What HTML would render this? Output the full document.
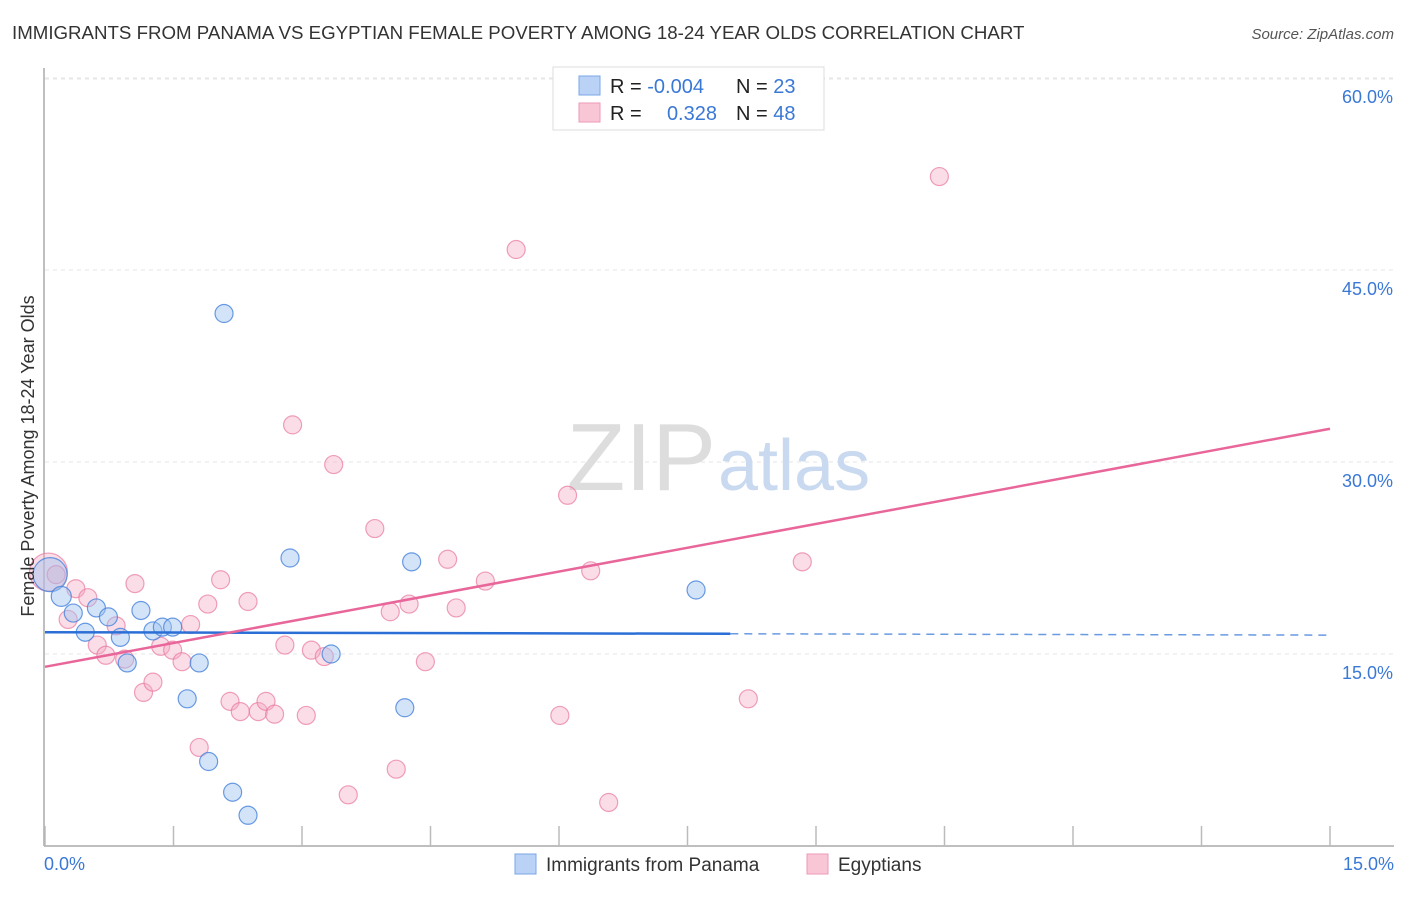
<!DOCTYPE html>
<html><head><meta charset="utf-8"><style>
body{margin:0;background:#fff;font-family:"Liberation Sans",sans-serif;}
svg text{font-family:"Liberation Sans",sans-serif;}
</style></head><body>
<svg id="chart" width="1406" height="892" xmlns="http://www.w3.org/2000/svg">
<text x="12" y="39" font-size="18.7" fill="#333">IMMIGRANTS FROM PANAMA VS EGYPTIAN FEMALE POVERTY AMONG 18-24 YEAR OLDS CORRELATION CHART</text>
<text x="1394" y="39" font-size="15" fill="#555" text-anchor="end" font-style="italic">Source: ZipAtlas.com</text>
<g id="grid"></g>
<text x="716" y="490" font-size="96" fill="#ddd" text-anchor="end" font-family="Liberation Serif">ZIP</text>
<text x="718" y="490" font-size="72" fill="#c8d9f0">atlas</text>
<line x1="44" y1="68" x2="44" y2="846" stroke="#aaa" stroke-width="1.5"/>
<line x1="44" y1="846" x2="1394" y2="846" stroke="#aaa" stroke-width="1.5"/>
<g id="ticks"></g>
<g id="points"></g>
<g id="trends"></g>
<text transform="translate(34,456) rotate(-90)" font-size="18" fill="#333" text-anchor="middle">Female Poverty Among 18-24 Year Olds</text>
<text x="44" y="870" font-size="18" fill="#3a78d6">0.0%</text>
<text x="1394" y="870" font-size="18" fill="#3a78d6" text-anchor="end">15.0%</text>
<g>
<rect x="553" y="67" width="271" height="63" fill="#fff" stroke="#ddd"/>
<rect x="579" y="76" width="21" height="19" fill="#b9d2f5" stroke="#7aa6e6"/>
<rect x="579" y="103" width="21" height="19" fill="#f9c6d6" stroke="#ee9ab5"/>
<text x="610" y="93" font-size="20" fill="#222">R = <tspan fill="#3a78d6">-0.004</tspan></text>
<text x="736" y="93" font-size="20" fill="#222">N = <tspan fill="#3a78d6">23</tspan></text>
<text x="610" y="120" font-size="20" fill="#222">R = </text>
<text x="717" y="120" font-size="20" fill="#3a78d6" text-anchor="end">0.328</text>
<text x="736" y="120" font-size="20" fill="#222">N = <tspan fill="#3a78d6">48</tspan></text>
</g>
<g>
<rect x="515" y="854" width="21" height="20" fill="#b9d2f5" stroke="#7aa6e6"/>
<text x="546" y="871" font-size="19" fill="#333">Immigrants from Panama</text>
<rect x="807" y="854" width="21" height="20" fill="#f9c6d6" stroke="#ee9ab5"/>
<text x="838" y="871" font-size="19" fill="#333">Egyptians</text>
</g>
</svg>
<script>
const yTicks=[15,30,45,60];
const yTickLabels=["15.0%","30.0%","45.0%","60.0%"];
const xTicks=[0,1.5,3,4.5,6,7.5,9,10.5,12,13.5,15];
const panamaX=[0.06,0.19,0.33,0.47,0.6,0.74,0.88,0.96,1.12,1.26,1.37,1.49,1.66,1.8,1.91,2.19,2.09,2.86,3.34,4.2,4.28,7.6,2.37];
const panamaY=[21.2,19.5,18.2,16.7,18.6,17.9,16.3,14.3,18.4,16.8,17.1,17.1,11.5,14.3,6.6,4.2,41.6,22.5,15.0,10.8,22.2,20.0,2.4];
const panamaR=[17,10,9,9,9,9,9,9,9,9,9,9,9,9,9,9,9,9,9,9,9,9,9];
const egyptX=[0.04,0.13,0.27,0.36,0.5,0.61,0.71,0.83,0.93,1.05,1.15,1.26,1.35,1.49,1.6,1.7,1.8,1.9,2.05,2.16,2.28,2.37,2.49,2.58,2.68,2.8,2.89,3.05,3.11,3.26,3.37,3.54,3.85,4.03,4.1,4.25,4.44,4.7,4.8,5.14,5.5,6.01,6.1,6.37,6.58,8.21,8.84,10.44];
const egyptY=[21.4,21.2,17.7,20.1,19.4,15.7,14.9,17.2,14.6,20.5,12.0,12.8,15.6,15.3,14.4,17.3,7.7,18.9,20.8,11.3,10.5,19.1,10.5,11.3,10.3,15.7,32.9,10.2,15.3,14.8,29.8,4.0,24.8,18.3,6.0,18.9,14.4,22.4,18.6,20.7,46.6,10.2,27.4,21.5,3.4,11.5,22.2,52.3];
const egyptR=[19,9,9,9,9,9,9,9,9,9,9,9,9,9,9,9,9,9,9,9,9,9,9,9,9,9,9,9,9,9,9,9,9,9,9,9,9,9,9,9,9,9,9,9,9,9,9,9];
const panamaTrend=[16.7,-0.015];
const egyptTrend=[14.0,1.24];
const panamaSolidEnd=8.0;
const NS="http://www.w3.org/2000/svg";
const sx=v=>45+v/15*1285, sy=v=>846-v*12.8;
function mk(tag,attrs,parent){const e=document.createElementNS(NS,tag);for(const k in attrs)e.setAttribute(k,attrs[k]);document.getElementById(parent).appendChild(e);return e;}
yTicks.forEach((t,i)=>{
 const l=mk('line',{x1:45,x2:1394,y1:sy(t),y2:sy(t),stroke:'#e6e6e6','stroke-dasharray':'4,4'},'grid');
 
 
 const tx=mk('text',{x:1393,y:sy(t)+25,'font-size':18,fill:'#3a78d6','text-anchor':'end'},'grid');
 tx.textContent=yTickLabels[i];
 
 
});
{const l=mk('line',{x1:45,x2:1394,y1:79,y2:79,stroke:'#e6e6e6','stroke-dasharray':'4,4'},'grid');

}
xTicks.forEach(t=>{
 const l=mk('line',{x1:sx(t),x2:sx(t),y1:826,y2:846,stroke:'#bbb','stroke-width':1.5},'ticks');
 
 
});
egyptX.forEach((x,i)=>{
 const c=mk('circle',{cx:sx(x),cy:sy(egyptY[i]),r:egyptR[i],fill:'rgba(246,170,196,0.4)',stroke:'rgba(232,120,160,0.7)','stroke-width':1.2},'points');
 
 
});
panamaX.forEach((x,i)=>{
 const c=mk('circle',{cx:sx(x),cy:sy(panamaY[i]),r:panamaR[i],fill:'rgba(160,195,240,0.45)',stroke:'rgba(70,130,220,0.8)','stroke-width':1.2},'points');
 
 
});
const pf=x=>panamaTrend[0]+panamaTrend[1]*x, ef=x=>egyptTrend[0]+egyptTrend[1]*x;
let l1=mk('line',{x1:sx(0),y1:sy(pf(0)),x2:sx(panamaSolidEnd),y2:sy(pf(panamaSolidEnd)),stroke:'#2b6fd6','stroke-width':2.5},'trends');


let l2=mk('line',{x1:sx(panamaSolidEnd),y1:sy(pf(panamaSolidEnd)),x2:sx(15),y2:sy(pf(15)),stroke:'#6a9ae0','stroke-width':1.5,'stroke-dasharray':'8,6'},'trends');


let l3=mk('line',{x1:sx(0),y1:sy(ef(0)),x2:sx(15),y2:sy(ef(15)),stroke:'#e8669a','stroke-width':2.5},'trends');


</script>
</body></html>
